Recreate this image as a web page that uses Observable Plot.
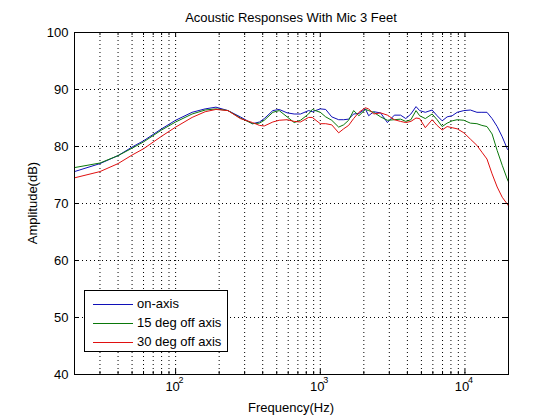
<!DOCTYPE html>
<html>
<head>
<meta charset="utf-8">
<script src="https://cdn.jsdelivr.net/npm/d3@7"></script>
<script src="https://cdn.jsdelivr.net/npm/@observablehq/plot@0.6"></script>
<style>
  body { margin: 0; background: #fff; font-family: "Liberation Sans", Arial, Helvetica, sans-serif; }
  #wrap { position: relative; width: 560px; height: 420px; overflow: hidden; }
  .txt { position: absolute; font-size: 13px; color: #000; white-space: nowrap; }
  #legend { position: absolute; left: 84px; top: 290px; width: 142px; height: 60px; border: 1px solid #000; background: #fff; }
  .lrow { position: absolute; left: 0; height: 16px; line-height: 16px; font-size: 13px; }
  .lline { position: absolute; left: 8px; top: 8px; width: 40px; height: 0; border-top: 1px solid; }
  .ltext { position: absolute; left: 52px; top: 0; }
</style>
</head>
<body>
<div id="wrap"></div>
<script>
// ---- data ----
const freq = [20, 30, 40, 50, 60, 80, 100, 130, 160, 190, 230, 280, 340, 380, 410, 470, 520, 590, 660, 730, 830, 880, 1000, 1090, 1200, 1340, 1450, 1570, 1700, 1850, 2050, 2160, 2340, 2610, 2910, 3250, 3590, 3900, 4230, 4590, 4860, 5320, 5930, 6420, 6960, 7530, 8160, 8840, 9830, 10900, 12100, 13100, 14200, 15400, 16700, 18100, 19600, 20000];
const onAxis = [75.6, 77.0, 78.4, 79.9, 81.0, 83.1, 84.6, 86.0, 86.6, 86.9, 86.3, 85.2, 84.0, 84.3, 84.9, 86.3, 86.5, 85.9, 85.7, 85.7, 86.3, 86.1, 86.6, 86.5, 85.2, 84.7, 84.7, 84.8, 85.7, 85.8, 86.6, 85.4, 86.1, 85.9, 84.2, 85.5, 85.5, 84.9, 85.7, 87.0, 86.3, 86.0, 86.4, 85.4, 84.5, 85.2, 85.4, 86.0, 86.3, 86.4, 86.0, 86.0, 86.0, 84.9, 83.5, 81.7, 79.6, 79.3];
const deg15 = [76.3, 77.1, 78.4, 79.7, 80.8, 82.9, 84.3, 85.7, 86.4, 86.6, 86.3, 85.0, 84.0, 84.1, 84.6, 86.0, 86.3, 85.2, 84.2, 84.6, 85.7, 86.5, 86.0, 85.2, 84.6, 83.4, 83.8, 84.6, 86.3, 85.4, 86.5, 86.3, 86.0, 85.2, 84.6, 84.7, 84.8, 84.4, 84.7, 86.3, 85.4, 84.9, 85.7, 84.7, 83.5, 84.1, 84.5, 84.7, 84.6, 84.1, 84.0, 83.7, 83.5, 82.2, 79.3, 76.7, 74.3, 73.8];
const deg30 = [74.5, 75.6, 77.0, 78.5, 79.6, 81.8, 83.4, 85.1, 86.1, 86.5, 86.3, 84.9, 84.2, 83.7, 83.6, 84.3, 84.6, 84.7, 84.4, 84.3, 85.1, 85.1, 84.0, 84.0, 83.8, 82.4, 83.1, 83.7, 84.9, 86.0, 86.8, 86.6, 85.7, 85.9, 85.5, 84.7, 84.4, 84.2, 84.4, 85.0, 84.9, 83.3, 84.7, 83.7, 82.9, 83.5, 83.3, 83.1, 82.4, 81.3, 80.2, 79.0, 77.8, 75.2, 72.9, 71.1, 69.9, 69.6];

const seriesNames = ["on-axis", "15 deg off axis", "30 deg off axis"];
const seriesColors = ["#1010b8", "#0a780a", "#e01010"];

const xMajorTicks = [100, 1000, 10000];
const xMinorTicks = [30, 40, 50, 60, 70, 80, 90, 200, 300, 400, 500, 600, 700, 800, 900, 2000, 3000, 4000, 5000, 6000, 7000, 8000, 9000];
const yTicks = [40, 50, 60, 70, 80, 90, 100];
const yGrid = [50, 60, 70, 80, 90];

const titleText = "Acoustic Responses With Mic 3 Feet";
const xLabel = "Frequency(Hz)";
const yLabel = "Amplitude(dB)";

// ---- build table ----
const seriesValues = [onAxis, deg15, deg30];
const rows = [];
seriesValues.forEach((vals, s) => {
  freq.forEach((f, i) => rows.push({ f, v: vals[i], s: seriesNames[s] }));
});

const W = 560, H = 420, ML = 74, MR = 52, MT = 32, MB = 46;
const innerW = W - ML - MR, innerH = H - MT - MB;
const allX = xMajorTicks.concat(xMinorTicks);
const dotted = { stroke: "#000", strokeOpacity: 1, strokeWidth: 1, strokeDasharray: "1,3" };

const chart = Plot.plot({
  width: W, height: H,
  marginLeft: ML, marginRight: MR, marginTop: MT, marginBottom: MB,
  style: { fontFamily: '"Liberation Sans", Arial, Helvetica, sans-serif', fontSize: "13px", color: "#000", background: "#fff" },
  x: { type: "log", domain: [20, 20000], axis: null },
  y: { domain: [40, 100], ticks: yTicks, tickSize: 0, tickPadding: 6, label: null },
  color: { domain: seriesNames, range: seriesColors },
  marks: [
    Plot.ruleX(allX, dotted),
    Plot.ruleY(yGrid, dotted),
    Plot.line(rows, { x: "f", y: "v", z: "s", stroke: "s", strokeWidth: 1 }),
    // inward ticks: bottom & top
    Plot.tickX(xMajorTicks, { stroke: "#000", insetTop: innerH - 5 }),
    Plot.tickX(xMajorTicks, { stroke: "#000", insetBottom: innerH - 5 }),
    Plot.tickX(xMinorTicks, { stroke: "#000", insetTop: innerH - 3 }),
    Plot.tickX(xMinorTicks, { stroke: "#000", insetBottom: innerH - 3 }),
    // inward ticks: left & right
    Plot.tickY(yTicks, { stroke: "#000", insetRight: innerW - 5 }),
    Plot.tickY(yTicks, { stroke: "#000", insetLeft: innerW - 5 }),
    Plot.frame({ stroke: "#000", strokeWidth: 1 }),
    // x tick labels: 10 with raised exponent
    Plot.text(xMajorTicks, { x: d => d, text: () => "10", frameAnchor: "bottom", dy: 16, dx: -3, fontSize: 13, fill: "#000" }),
    Plot.text(xMajorTicks, { x: d => d, text: d => String(Math.round(Math.log10(d))), frameAnchor: "bottom", dy: 8, dx: 3, textAnchor: "start", fontSize: 9, fill: "#000" })
  ]
});

const wrap = document.getElementById("wrap");
wrap.appendChild(chart);

function addText(text, css) {
  const d = document.createElement("div");
  d.className = "txt";
  d.textContent = text;
  Object.assign(d.style, css);
  wrap.appendChild(d);
  return d;
}
// title
addText(titleText, { left: "0px", width: (ML * 2 + innerW) + "px", top: "10px", textAlign: "center", lineHeight: "16px" });
// x label
addText(xLabel, { left: "0px", width: (ML * 2 + innerW) + "px", top: "400px", textAlign: "center", lineHeight: "16px" });
// y label (rotated)
addText(yLabel, { left: "33px", top: (MT + innerH / 2) + "px", lineHeight: "16px", transform: "translate(-50%,-50%) rotate(-90deg)" });

// legend
const lg = document.createElement("div");
lg.id = "legend";
seriesNames.forEach((name, i) => {
  const r = document.createElement("div");
  r.className = "lrow";
  r.style.top = (5 + i * 19) + "px";
  r.style.width = "140px";
  const ln = document.createElement("div");
  ln.className = "lline";
  ln.style.borderTopColor = seriesColors[i];
  const tx = document.createElement("div");
  tx.className = "ltext";
  tx.textContent = name;
  r.appendChild(ln); r.appendChild(tx);
  lg.appendChild(r);
});
wrap.appendChild(lg);
</script>
</body>
</html>
